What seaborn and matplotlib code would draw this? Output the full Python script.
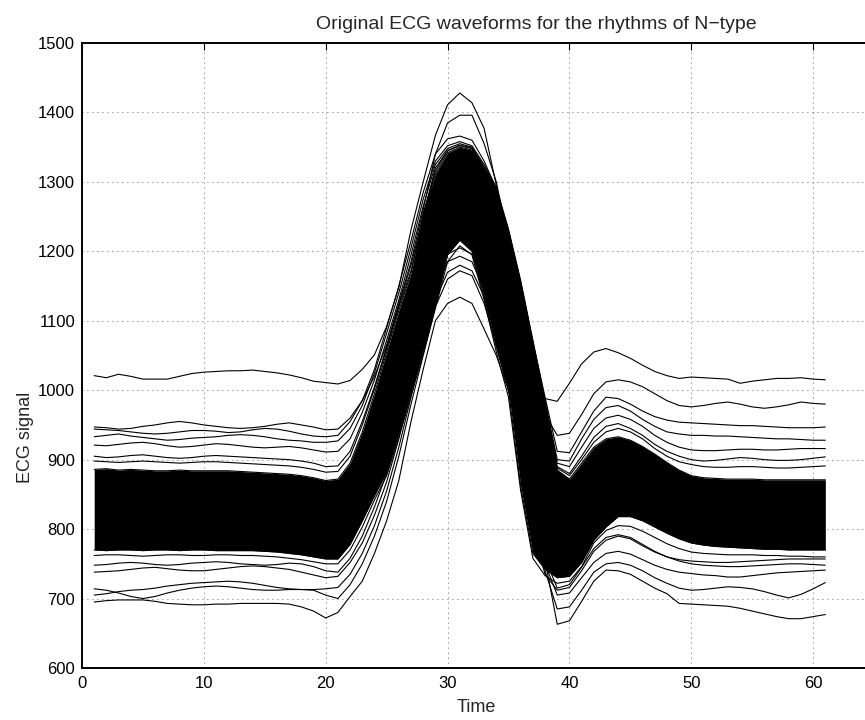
import matplotlib
matplotlib.use("Agg")
import matplotlib.pyplot as plt
import seaborn as sns
import pandas as pd

# ---------------- data ----------------
time = list(range(1, 62))

# envelope of the dense, fully black bundle of beats
core_upper = [886, 887, 885, 886, 885, 884, 884, 885, 884, 884, 884, 884, 883, 882, 881, 880, 879, 877, 874, 870, 872,
              895, 940, 995, 1055, 1115, 1168, 1255, 1312, 1342, 1350, 1346,
              1318, 1292, 1222, 1148, 1062, 978, 885, 872,
              895, 918, 930, 933, 928, 919, 908, 896, 885, 877,
              874, 873, 872, 872, 872, 871, 871, 871, 871, 871, 871]
core_lower = [770, 769, 770, 770, 769, 770, 770, 769, 770, 770, 769, 769, 769, 769, 768, 767, 765, 763, 760, 757, 757,
              778, 812, 848, 882, 938, 998, 1058, 1122, 1195, 1216, 1200,
              1135, 1062, 1000, 862, 765, 742, 730, 732,
              752, 784, 803, 818, 818, 812, 803, 794, 786, 780,
              777, 775, 774, 773, 772, 771, 771, 770, 770, 770, 770]

# individual beats visible outside the dense bundle
beat_a = [1021, 1018, 1023, 1020, 1016, 1016, 1016, 1020, 1024, 1026, 1027, 1028, 1028, 1029, 1027, 1025, 1022, 1018, 1013, 1011, 1009,
          1014, 1030, 1051, 1092, 1148, 1231, 1300, 1367, 1411, 1428, 1414,
          1377, 1295, 1200, 1118, 1040, 988, 984, 1010,
          1038, 1055, 1060, 1054, 1046, 1036, 1027, 1021, 1017, 1019,
          1018, 1017, 1016, 1010, 1013, 1015, 1017, 1017, 1018, 1016, 1015]
beat_b = [947, 946, 944, 945, 948, 950, 953, 955, 953, 950, 948, 946, 945, 946, 948, 951, 953, 950, 947, 943, 944,
          960, 985, 1020, 1065, 1125, 1185, 1260, 1340, 1385, 1396, 1396,
          1355, 1300, 1215, 1130, 1040, 965, 935, 938,
          965, 995, 1012, 1015, 1012, 1005, 995, 985, 978, 976,
          978, 981, 983, 980, 976, 974, 976, 979, 983, 981, 980]
beat_c = [944, 943, 942, 940, 938, 937, 938, 940, 942, 942, 941, 939, 940, 943, 945, 944, 941, 937, 934, 933, 935,
          955, 985, 1030, 1090, 1150, 1215, 1285, 1340, 1362, 1366, 1360,
          1330, 1290, 1230, 1155, 1070, 990, 912, 910,
          940, 970, 990, 988, 980, 970, 962, 957, 954, 953,
          952, 951, 950, 949, 949, 948, 947, 946, 946, 946, 947]
beat_d = [933, 935, 937, 934, 932, 930, 928, 929, 931, 932, 933, 935, 936, 935, 933, 930, 928, 927, 925, 925, 927,
          945, 978, 1025, 1082, 1140, 1205, 1275, 1330, 1352, 1358, 1352,
          1325, 1292, 1232, 1158, 1072, 985, 900, 898,
          930, 958, 975, 978, 970, 958, 948, 940, 937, 935,
          935, 934, 934, 933, 932, 931, 930, 930, 929, 928, 928]
beat_e = [921, 920, 922, 924, 925, 923, 920, 918, 919, 921, 923, 922, 920, 918, 917, 918, 919, 917, 914, 911, 912,
          930, 968, 1015, 1072, 1130, 1195, 1265, 1325, 1348, 1355, 1350,
          1322, 1290, 1228, 1155, 1068, 982, 895, 890,
          918, 945, 960, 964, 958, 948, 935, 925, 918, 914,
          913, 913, 914, 915, 915, 914, 914, 915, 916, 916, 916]
beat_f = [905, 903, 904, 906, 907, 905, 903, 902, 903, 905, 906, 905, 904, 903, 902, 901, 900, 898, 895, 890, 891,
          912, 955, 1005, 1062, 1122, 1180, 1252, 1320, 1345, 1352, 1348,
          1320, 1288, 1225, 1152, 1066, 980, 890, 880,
          905, 932, 948, 952, 945, 935, 922, 912, 905, 900,
          898, 899, 901, 903, 902, 900, 899, 899, 900, 902, 904]
beat_g = [898, 897, 896, 897, 898, 897, 896, 895, 896, 897, 897, 896, 895, 894, 893, 892, 891, 889, 886, 882, 883,
          905, 950, 1002, 1060, 1120, 1172, 1245, 1316, 1345, 1353, 1349,
          1320, 1288, 1224, 1150, 1064, 979, 888, 877,
          900, 925, 940, 945, 940, 930, 916, 905, 897, 893,
          890, 889, 889, 890, 890, 889, 888, 888, 889, 890, 891]
beat_h = [695, 697, 698, 698, 698, 696, 693, 692, 691, 691, 692, 692, 693, 693, 693, 693, 692, 688, 682, 672, 680,
          703, 725, 765, 812, 870, 955, 1030, 1100, 1125, 1134, 1125,
          1088, 1050, 1000, 945, 861, 755, 663, 668,
          696, 725, 741, 740, 735, 725, 715, 707, 693, 692,
          691, 690, 689, 686, 682, 678, 674, 671, 671, 674, 677]
beat_i = [714, 712, 708, 703, 700, 703, 708, 712, 715, 717, 718, 717, 715, 713, 712, 712, 713, 713, 712, 705, 700,
          720, 750, 790, 840, 905, 980, 1050, 1120, 1160, 1172, 1165,
          1125, 1065, 1000, 920, 830, 740, 685, 688,
          712, 738, 750, 752, 748, 740, 730, 722, 715, 712,
          713, 715, 717, 716, 714, 710, 705, 701, 706, 714, 723]
beat_j = [705, 707, 710, 712, 713, 715, 718, 720, 722, 723, 724, 725, 724, 722, 719, 716, 714, 713, 713, 714, 716,
          735, 765, 805, 855, 918, 990, 1062, 1130, 1170, 1180, 1172,
          1135, 1075, 1005, 925, 835, 750, 705, 708,
          730, 752, 765, 768, 764, 756, 748, 742, 738, 736,
          734, 733, 731, 731, 733, 735, 737, 738, 739, 740, 741]
beat_k = [738, 739, 740, 742, 744, 745, 743, 741, 740, 740, 742, 744, 746, 747, 746, 744, 742, 738, 734, 730, 732,
          752, 780, 820, 868, 930, 1000, 1075, 1145, 1185, 1193, 1185,
          1145, 1085, 1015, 935, 840, 758, 715, 720,
          745, 772, 788, 792, 788, 778, 768, 760, 754, 750,
          748, 747, 746, 746, 747, 748, 749, 750, 750, 749, 748]
beat_l = [748, 749, 751, 752, 751, 749, 748, 749, 751, 752, 753, 752, 750, 749, 748, 749, 751, 750, 746, 740, 738,
          758, 790, 832, 880, 942, 1012, 1085, 1155, 1196, 1205, 1196,
          1150, 1080, 1008, 900, 800, 735, 712, 716,
          740, 768, 784, 790, 786, 776, 767, 760, 756, 754,
          753, 752, 752, 753, 754, 755, 756, 757, 757, 757, 757]
beat_m = [762, 763, 763, 762, 761, 762, 763, 763, 762, 762, 763, 763, 762, 762, 761, 760, 758, 756, 753, 750, 750,
          770, 803, 842, 877, 932, 992, 1052, 1118, 1185, 1208, 1195,
          1130, 1055, 990, 855, 758, 733, 722, 725,
          746, 780, 798, 805, 804, 797, 788, 779, 772, 767,
          765, 764, 763, 763, 763, 762, 762, 761, 761, 760, 760]

beats = {"a": beat_a, "b": beat_b, "c": beat_c, "d": beat_d, "e": beat_e, "f": beat_f,
         "g": beat_g, "h": beat_h, "i": beat_i, "j": beat_j, "k": beat_k, "l": beat_l,
         "m": beat_m, "upper": core_upper, "lower": core_lower}

x_ticks = [0, 10, 20, 30, 40, 50, 60, 70]
x_tick_labels = ["0", "10", "20", "30", "40", "50", "60", ""]  # 70 falls outside the cropped picture
y_ticks = [600, 700, 800, 900, 1000, 1100, 1200, 1300, 1400, 1500]
title_text = "Original ECG waveforms for the rhythms of N\u2212type"
x_label = "Time"
y_label = "ECG signal"

# ---------------- styling ----------------
sns.set_theme(style="white")
plt.rcParams['font.family'] = ['Liberation Sans', 'DejaVu Sans']
plt.rcParams['axes.unicode_minus'] = True

W, H = 865, 720
fig = plt.figure(figsize=(W / 100, H / 100), dpi=100)
fig.patch.set_facecolor("white")
left, right, top, bottom = 82, 935, 43, 668
ax = fig.add_axes([left / W, 1 - bottom / H, (right - left) / W, (bottom - top) / H])
ax.set_facecolor("white")

ax.fill_between(time, core_lower, core_upper, color="black", linewidth=0, zorder=2)

rows = []
for name, vals in beats.items():
    for t, v in zip(time, vals):
        rows.append({"Time": t, "ECG": v, "beat": name})
df = pd.DataFrame(rows)
sns.lineplot(data=df, x="Time", y="ECG", units="beat", estimator=None, color="black",
             linewidth=0.8, legend=False, sort=False, ax=ax, zorder=3)

ax.set_xlim(0, 70)
ax.set_ylim(600, 1500)
ax.set_xticks(x_ticks)
ax.set_xticklabels(x_tick_labels)
ax.set_yticks(y_ticks)
ax.set_xlabel("")
ax.set_ylabel("")
ax.grid(True, color="black", linestyle=(0, (1, 5)), linewidth=0.6, alpha=0.8, zorder=1)
ax.set_axisbelow(True)
for s in ["left", "bottom", "top", "right"]:
    ax.spines[s].set_color("black")
    ax.spines[s].set_linewidth(1.4)
ax.tick_params(axis="both", direction="in", length=5, width=0.8, colors="black",
               labelsize=12, top=True, right=True, pad=5)
ax.tick_params(axis="x", pad=6)

fig.text(536 / W, 1 - 29 / H, title_text, ha="center", va="baseline", fontsize=14)
fig.text(476 / W, 1 - 712 / H, x_label, ha="center", va="baseline", fontsize=13)
fig.text(25 / W, 1 - 437 / H, y_label, ha="center", va="center", rotation=90, fontsize=13)

fig.savefig("out.png", dpi=100, facecolor="white")
